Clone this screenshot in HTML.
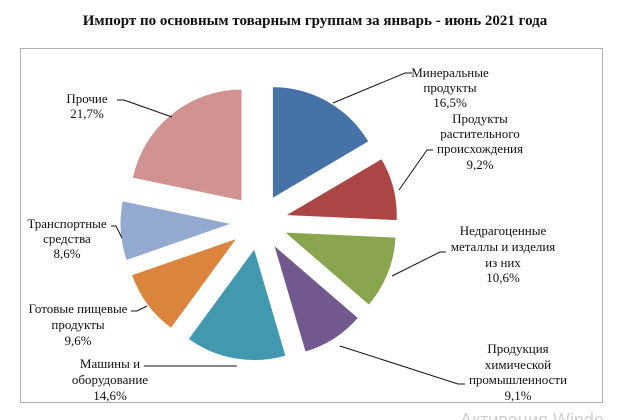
<!DOCTYPE html>
<html><head><meta charset="utf-8"><style>
html,body{margin:0;padding:0;background:#fff;width:623px;height:420px;overflow:hidden}
svg{display:block}
text{font-family:"Liberation Serif","DejaVu Serif",serif;font-size:13px;fill:#111}
</style></head><body>
<svg id="s" width="623" height="420" viewBox="0 0 623 420">
<text x="315" y="25" text-anchor="middle" style="font-weight:bold;font-size:15px">Импорт по основным товарным группам за январь - июнь 2021 года</text>
<rect x="20.5" y="48.5" width="582" height="354" fill="none" stroke="#b0b0b0" stroke-width="1"/>
<g id="pie"></g>
<g stroke="#111" stroke-width="1" fill="none">
<polyline points="412,73 405,73 333,103"/>
<polyline points="433,150 427,150 399,190"/>
<polyline points="446,252 440,252 392,276"/>
<polyline points="465,384 458,384 340,346"/>
<polyline points="144,366 237,366"/>
<polyline points="131,311 137,311 147,306"/>
<polyline points="111,226 116,226 122,238"/>
<polyline points="117,100 124,100 172,117"/>
</g>
<g text-anchor="middle">
<text x="450" y="77">Минеральные</text><text x="450" y="92">продукты</text><text x="450" y="107">16,5%</text>
<text x="480" y="123">Продукты</text><text x="480" y="138">растительного</text><text x="480" y="153">происхождения</text><text x="480" y="169">9,2%</text>
<text x="503" y="235">Недрагоценные</text><text x="503" y="251">металлы и изделия</text><text x="503" y="267">из них</text><text x="503" y="282">10,6%</text>
<text x="518" y="353">Продукция</text><text x="518" y="369">химической</text><text x="518" y="384">промышленности</text><text x="518" y="400">9,1%</text>
<text x="110" y="368">Машины и</text><text x="110" y="384">оборудование</text><text x="110" y="400">14,6%</text>
<text x="78" y="313">Готовые пищевые</text><text x="78" y="329">продукты</text><text x="78" y="345">9,6%</text>
<text x="67" y="228">Транспортные</text><text x="67" y="243">средства</text><text x="67" y="258">8,6%</text>
<text x="87" y="103">Прочие</text><text x="87" y="118">21,7%</text>
</g>
<text x="460" y="426" style="font-family:'Liberation Sans',sans-serif;font-size:18px;fill:#cfcfcf">Активация Windo</text>
</svg>
<script>
var vals=[16.5,9.2,10.6,9.1,14.6,9.6,8.6,21.7];
var cols=["#4572a7","#aa4643","#89a54e","#71588f","#4198af","#db843d","#93a9cf","#d19392"];
var tot=vals.reduce(function(a,b){return a+b},0);
var cx=259,cy=222,r=112,d=27,acc=0,out="";
for(var i=0;i<vals.length;i++){
 var a0=acc/tot*2*Math.PI,a1=(acc+vals[i])/tot*2*Math.PI,am=(a0+a1)/2;acc+=vals[i];
 var ox=cx+d*Math.sin(am),oy=cy-d*Math.cos(am);
 var x0=ox+r*Math.sin(a0),y0=oy-r*Math.cos(a0),x1=ox+r*Math.sin(a1),y1=oy-r*Math.cos(a1);
 var lg=(a1-a0)>Math.PI?1:0;
 out+='<path d="M'+ox.toFixed(1)+','+oy.toFixed(1)+' L'+x0.toFixed(1)+','+y0.toFixed(1)+' A'+r+','+r+' 0 '+lg+' 1 '+x1.toFixed(1)+','+y1.toFixed(1)+' Z" fill="'+cols[i]+'" stroke="#fff" stroke-width="1"/>';
}
document.getElementById("pie").innerHTML=out;
</script>
</body></html>
